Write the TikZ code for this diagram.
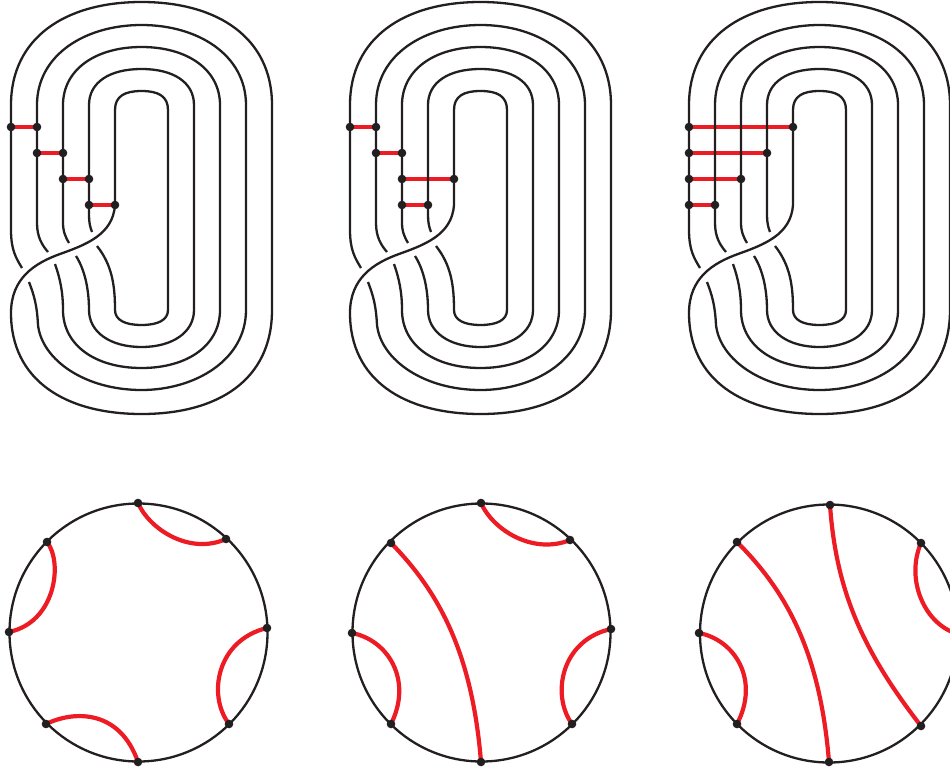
\documentclass[tikz,border=0pt]{standalone}
\usepackage{xcolor}
\usetikzlibrary{backgrounds}
\definecolor{knotblack}{HTML}{231F20}
\definecolor{arcred}{HTML}{ED1C24}
\tikzset{
  knotline/.style={draw=knotblack,line width=2.3pt,line cap=butt,line join=round},
  arcline/.style={draw=arcred,line width=4.2pt},
  bandpt/.style={circle,fill=knotblack,inner sep=0pt,minimum size=8.6pt}
}
% the twisted band, drawn once per column
\newcommand{\bandknot}{%
  \draw[knotline] (22,268) .. controls (16,258) and (11,250) .. (11,230) -- (11,105)
    .. controls (11,38) and (65,2) .. (141.5,2) .. controls (218,2) and (272,38) .. (272,105)
    -- (272,310) .. controls (272,380) and (218,414) .. (141.5,414) .. controls (65,414) and (11,380) .. (11,313)
    .. controls (11,278) and (35,263) .. (60,254) .. controls (85,245) and (113,235) .. (115,205)
    -- (115,110) .. controls (115,96) and (125,91) .. (141.5,91) .. controls (158,91) and (168,96) .. (168,110)
    -- (168,310) .. controls (168,320) and (158,325) .. (141.5,325) .. controls (125,325) and (115,320) .. (115,310)
    .. controls (115,285) and (112,265) .. (97,246);
  \draw[knotline] (29,282) .. controls (34,295) and (37,305) .. (38,325)
    .. controls (42,360) and (85,390) .. (141.5,390) .. controls (195,390) and (246,360) .. (246,310)
    -- (246,105) .. controls (246,55) and (198,25) .. (141.5,25) .. controls (85,25) and (37,55) .. (37,105)
    -- (37,223) .. controls (37,237) and (42,245) .. (48,252);
  \draw[knotline] (55,264) .. controls (60,278) and (63,292) .. (63,310)
    .. controls (63,345) and (95,368) .. (141.5,368) .. controls (188,368) and (220,345) .. (220,310)
    -- (220,105) .. controls (220,70) and (188,47) .. (141.5,47) .. controls (95,47) and (63,70) .. (63,105)
    -- (63,223) .. controls (63,232) and (66,238) .. (69,243);
  \draw[knotline] (76,256) .. controls (85,270) and (89,290) .. (89,310)
    .. controls (89,332) and (110,347) .. (141.5,347) .. controls (173,347) and (194,332) .. (194,310)
    -- (194,105) .. controls (194,82) and (173,69) .. (141.5,69) .. controls (110,69) and (89,82) .. (89,105)
    -- (89,215) .. controls (89,222) and (90,227) .. (92,232);
}
\begin{document}
\begin{tikzpicture}[x=1pt,y=-1pt]
  \useasboundingbox (0,0) rectangle (950,771);
  % top row
  \foreach \xs in {0,339,678} {
    \begin{scope}[xshift=\xs pt]
      \bandknot
    \end{scope}
  }
  \node[bandpt] (a1) at (11,127) {};
  \node[bandpt] (a2) at (37,127) {};
  \node[bandpt] (a3) at (37,153) {};
  \node[bandpt] (a4) at (63,153) {};
  \node[bandpt] (a5) at (63,179) {};
  \node[bandpt] (a6) at (89,179) {};
  \node[bandpt] (a7) at (89,205) {};
  \node[bandpt] (a8) at (115,205) {};
  \node[bandpt] (b1) at (350,127) {};
  \node[bandpt] (b2) at (376,127) {};
  \node[bandpt] (b3) at (376,153) {};
  \node[bandpt] (b4) at (402,153) {};
  \node[bandpt] (b5) at (402,179) {};
  \node[bandpt] (b6) at (454,179) {};
  \node[bandpt] (b7) at (402,205) {};
  \node[bandpt] (b8) at (428,205) {};
  \node[bandpt] (c1) at (689,127) {};
  \node[bandpt] (c2) at (793,127) {};
  \node[bandpt] (c3) at (689,153) {};
  \node[bandpt] (c4) at (767,153) {};
  \node[bandpt] (c5) at (689,179) {};
  \node[bandpt] (c6) at (741,179) {};
  \node[bandpt] (c7) at (689,205) {};
  \node[bandpt] (c8) at (715,205) {};
  % bottom row
  \draw[knotline] (138.5,632.5) circle (129pt);
  \draw[knotline] (481.5,632.5) circle (129pt);
  \draw[knotline] (829,633.5) circle (129pt);
  \node[bandpt] (p1) at (138,503) {};
  \node[bandpt] (p2) at (226,539) {};
  \node[bandpt] (p3) at (267,628) {};
  \node[bandpt] (p4) at (229,724) {};
  \node[bandpt] (p5) at (138,762) {};
  \node[bandpt] (p6) at (46,724) {};
  \node[bandpt] (p7) at (9,632) {};
  \node[bandpt] (p8) at (47,542) {};
  \node[bandpt] (q1) at (481,503) {};
  \node[bandpt] (q2) at (570,540) {};
  \node[bandpt] (q3) at (611,629) {};
  \node[bandpt] (q4) at (572,724) {};
  \node[bandpt] (q5) at (481,762) {};
  \node[bandpt] (q6) at (391,724) {};
  \node[bandpt] (q7) at (352,633) {};
  \node[bandpt] (q8) at (391,543) {};
  \node[bandpt] (r1) at (830,505) {};
  \node[bandpt] (r2) at (921,543) {};
  \node[bandpt] (r3) at (958,634) {};
  \node[bandpt] (r4) at (921,726) {};
  \node[bandpt] (r5) at (829,762) {};
  \node[bandpt] (r6) at (737,724) {};
  \node[bandpt] (r7) at (699,633) {};
  \node[bandpt] (r8) at (737,542) {};
  % red arcs go under the dots
  \begin{scope}[on background layer]
    \draw[arcline] (a1.center) -- (a2.center);
    \draw[arcline] (a3.center) -- (a4.center);
    \draw[arcline] (a5.center) -- (a6.center);
    \draw[arcline] (a7.center) -- (a8.center);
    \draw[arcline] (b1.center) -- (b2.center);
    \draw[arcline] (b3.center) -- (b4.center);
    \draw[arcline] (b5.center) -- (b6.center);
    \draw[arcline] (b7.center) -- (b8.center);
    \draw[arcline] (c1.center) -- (c2.center);
    \draw[arcline] (c3.center) -- (c4.center);
    \draw[arcline] (c5.center) -- (c6.center);
    \draw[arcline] (c7.center) -- (c8.center);
    \draw[arcline] (p1.center) .. controls (150,530) and (190,555) .. (p2.center);
    \draw[arcline] (p8.center) .. controls (63,562) and (56,622) .. (p7.center);
    \draw[arcline] (p3.center) .. controls (217,640) and (207,695) .. (p4.center);
    \draw[arcline] (p6.center) .. controls (75,710) and (120,710) .. (p5.center);
    \draw[arcline] (q1.center) .. controls (493,530) and (533,555) .. (q2.center);
    \draw[arcline] (q8.center) .. controls (437,590) and (472,650) .. (q5.center);
    \draw[arcline] (q7.center) .. controls (388,640) and (413,680) .. (q6.center);
    \draw[arcline] (q3.center) .. controls (561,640) and (551,695) .. (q4.center);
    \draw[arcline] (r8.center) .. controls (785,590) and (820,650) .. (r5.center);
    \draw[arcline] (r1.center) .. controls (836,590) and (862,650) .. (r4.center);
    \draw[arcline] (r7.center) .. controls (735,640) and (760,680) .. (r6.center);
    \draw[arcline] (r2.center) .. controls (905,580) and (925,625) .. (r3.center);
  \end{scope}
\end{tikzpicture}
\end{document}
